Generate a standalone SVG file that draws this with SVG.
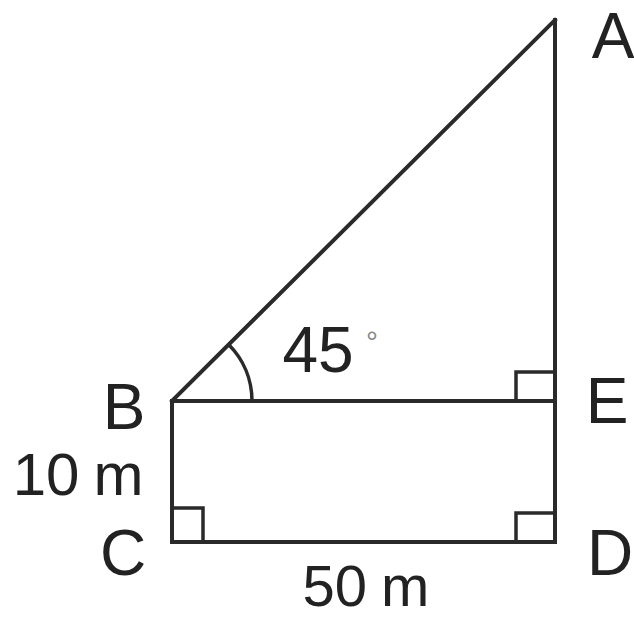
<svg xmlns="http://www.w3.org/2000/svg" width="634" height="621" viewBox="0 0 634 621">
<style>
.ln{stroke:#2a2a2a;stroke-width:4;fill:none;stroke-linecap:square}
.sq{stroke:#2a2a2a;stroke-width:3.5;fill:none}
.lb{font-family:"Liberation Sans",Arial,sans-serif;font-size:64px;fill:#222;text-anchor:middle}
</style>
<rect width="634" height="621" fill="#fff"/>
<g id="connectors">
<line class="ln" x1="172" y1="401" x2="555" y2="20"/>
<line class="ln" x1="555" y1="20" x2="555" y2="542"/>
<line class="ln" x1="172" y1="401" x2="555" y2="401"/>
<line class="ln" x1="172" y1="401" x2="172" y2="542"/>
<line class="ln" x1="172" y1="542" x2="555" y2="542"/>
<path class="sq" d="M228.6,344.4 A80,80 0 0 1 252,401"/>
<path class="sq" d="M516,401 V372 H555"/>
<path class="sq" d="M516,542 V513 H555"/>
<path class="sq" d="M172,508 H203 V542"/>
</g>
<g id="A"><text class="lb" x="613" y="58">A</text></g>
<g id="B"><text class="lb" x="124" y="429">B</text></g>
<g id="E"><text class="lb" x="607" y="423">E</text></g>
<g id="C"><text class="lb" x="123" y="575">C</text></g>
<g id="D"><text class="lb" x="610" y="575">D</text></g>
<g id="angle"><text class="lb" x="318" y="372" style="font-size:64px">45</text><text class="lb" x="372" y="352" style="font-size:30px;fill:#888">°</text></g>
<g id="h"><text class="lb" x="78" y="495" style="font-size:60px">10<tspan dx="14">m</tspan></text></g>
<g id="w"><text class="lb" x="366" y="606" style="font-size:58px">50<tspan dx="14">m</tspan></text></g>
</svg>
